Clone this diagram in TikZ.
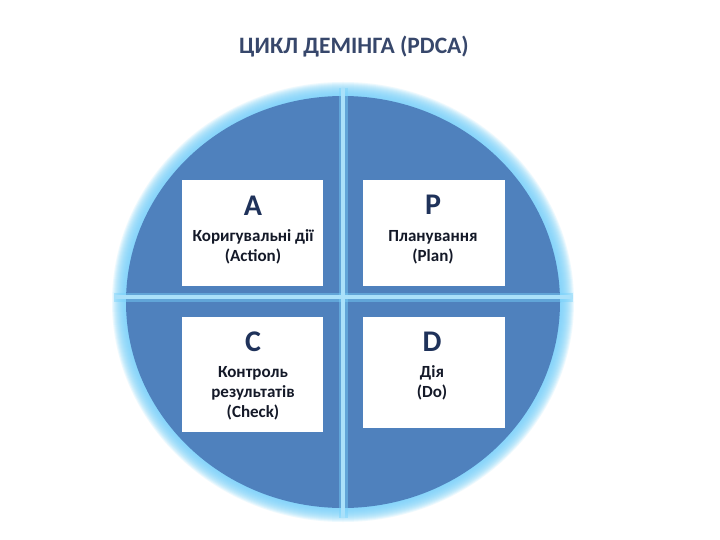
\documentclass[tikz,border=0pt]{standalone}
\usepackage{fontspec}
\setmainfont{Carlito}
\definecolor{disc}{RGB}{79,129,189}
\definecolor{glow}{RGB}{120,210,250}
\definecolor{crossc}{RGB}{170,225,250}
\definecolor{titlec}{RGB}{55,71,107}
\definecolor{letterc}{RGB}{31,50,90}
\definecolor{textc}{RGB}{20,25,40}
\tikzset{
  card/.style={fill=white, draw=none, inner sep=0pt, anchor=north west},
  letter/.style={font=\fontsize{30}{30}\selectfont\bfseries, text=letterc, inner sep=0pt},
  label/.style={font=\fontsize{17}{20}\selectfont\bfseries, text=textc, align=center, inner sep=0pt},
}
\begin{document}
\begin{tikzpicture}[x=1pt,y=-1pt]
\useasboundingbox (0,0) rectangle (720,540);
\fill[white] (0,0) rectangle (720,540);
\node[font=\fontsize{23.5}{24}\selectfont\bfseries, text=titlec] (title) at (354,47) {ЦИКЛ ДЕМІНГА (PDCA)};
% glow
\foreach \i in {14,13,...,1} {
  \fill[glow, opacity=0.13] (343,302) ellipse [x radius={217+\i}, y radius={206+\i}];
}
\fill[disc] (343,302) ellipse [x radius=217, y radius=206];
% cross
\coordinate (vt) at (343,88);
\coordinate (vb) at (343,518);
\coordinate (hl) at (114,297);
\coordinate (hr) at (573,297);
\draw[glow, opacity=0.45, line width=9pt] (vt) -- (vb);
\draw[glow, opacity=0.45, line width=9pt] (hl) -- (hr);
\draw[crossc, line width=3.5pt] (vt) -- (vb);
\draw[crossc, line width=3.5pt] (hl) -- (hr);
% cards
\node[card, minimum width=141pt, minimum height=106pt] (boxA) at (182,180) {};
\node[card, minimum width=142pt, minimum height=106pt] (boxP) at (363,180) {};
\node[card, minimum width=141pt, minimum height=115pt] (boxC) at (182,317) {};
\node[card, minimum width=142pt, minimum height=111pt] (boxD) at (363,317) {};
% texts
\node[letter] (lA) at (253,206) {A};
\node[label] (tA) at (253,247) {Коригувальні дії\\(Action)};
\node[letter] (lP) at (433,205) {P};
\node[label] (tP) at (433,247) {Планування\\(Plan)};
\node[letter] (lC) at (253,342) {C};
\node[label] (tC) at (253,393) {Контроль\\результатів\\(Check)};
\node[letter] (lD) at (432,342) {D};
\node[label] (tD) at (432,383) {Дія\\(Do)};
\end{tikzpicture}
\end{document}
